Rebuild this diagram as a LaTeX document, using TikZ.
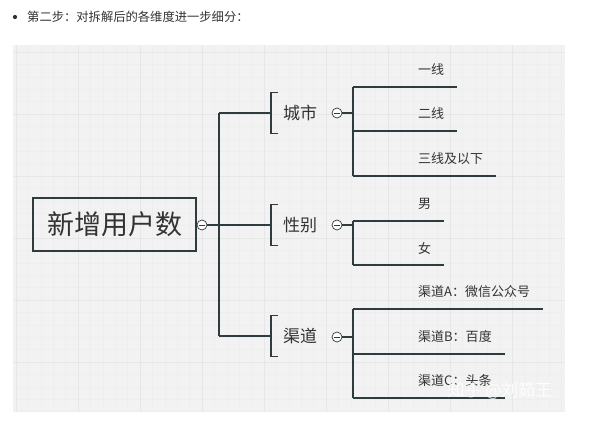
\documentclass[tikz,border=0pt]{standalone}
\usepackage{fontspec}
\setmainfont{Noto Sans CJK SC}
\definecolor{linec}{HTML}{2E3B3F}
\definecolor{textc}{HTML}{333333}
\definecolor{bgc}{HTML}{F2F2F2}
\definecolor{gridmaj}{HTML}{E7E7E7}
\definecolor{gridmin}{HTML}{EEEEEE}
\begin{document}
\begin{tikzpicture}[x=1pt,y=-1pt,
  conn/.style={draw=linec, line width=1.4pt},
  fold/.style={circle, draw=linec, fill=white, line width=0.7pt, minimum size=10pt, inner sep=0pt,
    path picture={\draw[linec, line width=0.6pt] ([xshift=-2.8pt]path picture bounding box.center) -- ([xshift=2.8pt]path picture bounding box.center);}},
  rootbox/.style={draw=linec, line width=1.5pt, minimum width=163pt, minimum height=53pt, inner sep=0pt,
    font=\fontsize{27}{27}\selectfont, text=textc},
  branch/.style={font=\fontsize{17}{17}\selectfont, text=textc, inner xsep=12pt, inner ysep=0pt,
    minimum height=41pt, anchor=west},
  leaf/.style={font=\fontsize{13}{13}\selectfont, text=textc, inner xsep=13pt, inner ysep=0pt, anchor=west},
  bracket/.style={draw=linec, line width=1.4pt}
]
\useasboundingbox (0,0) rectangle (609,431);
% heading
\fill[textc] (15,17) circle (2.1pt);
\node[anchor=west, font=\fontsize{12.3}{12.3}\selectfont, text=textc, inner sep=0pt] (title) at (27,17) {第二步：对拆解后的各维度进一步细分：};
% background grid
\fill[bgc] (13,45) rectangle (565,412);
\begin{scope}
\clip (13,45) rectangle (565,412);
\foreach \x in {0,...,45} {\draw[gridmin, line width=0.3pt] (16+\x*12.4,45) -- (16+\x*12.4,412);}
\foreach \y in {0,...,30} {\draw[gridmin, line width=0.3pt] (13,52+\y*12.4) -- (565,52+\y*12.4);}
\foreach \x in {0,...,9} {\draw[gridmaj, line width=0.6pt] (16+\x*62,45) -- (16+\x*62,412);}
\foreach \y in {0,...,6} {\draw[gridmaj, line width=0.6pt] (13,52+\y*62) -- (565,52+\y*62);}
\end{scope}
% root
\node[rootbox] (root) at (114.5,224.5) {新增用户数};
\node[fold] (rc) at (202,225) {};
\draw[conn] (root.east) -- (rc.west);
% trunk coordinates
\coordinate (t0) at (219,225);
\coordinate (t1) at (219,113);
\coordinate (t2) at (219,225);
\coordinate (t3) at (219,336);
\draw[conn] (rc.east) -- (t0);
\draw[conn] (t1) -- (t3);
% branches
\node[branch] (b1) at (271,113) {城市};
\node[branch] (b2) at (271,225) {性别};
\node[branch] (b3) at (271,336) {渠道};
\foreach \b in {b1,b2,b3} {
  \draw[bracket] ([xshift=7pt]\b.north west) -- (\b.north west) -- (\b.south west) -- ([xshift=7pt]\b.south west);
}
\draw[conn] (t1) -- (b1.west);
\draw[conn] (t2) -- (b2.west);
\draw[conn] (t3) -- (b3.west);
\node[fold] (c1) at (337,113) {};
\node[fold] (c2) at (337,225) {};
\node[fold] (c3) at (337,337) {};
% sub-trunks
\coordinate (v1) at (353,113);
\coordinate (v2) at (353,225);
\coordinate (v3) at (353,337);
\draw[conn] (c1.east) -- (v1);
\draw[conn] (c2.east) -- (v2);
\draw[conn] (c3.east) -- (v3);
% leaf line starts
\coordinate (a1) at (353,87);
\coordinate (a2) at (353,131);
\coordinate (a3) at (353,176);
\coordinate (a4) at (353,221);
\coordinate (a5) at (353,265);
\coordinate (a6) at (353,309);
\coordinate (a7) at (353,354);
\coordinate (a8) at (353,398);
\draw[conn] (a1) -- (a3);
\draw[conn] (a4) -- (a5);
\draw[conn] (a6) -- (a8);
% leaves
\node[leaf] (l1) at (405,70) {一线};
\node[leaf] (l2) at (405,114) {二线};
\node[leaf] (l3) at (405,159) {三线及以下};
\node[leaf] (l4) at (405,204) {男};
\node[leaf] (l5) at (405,248) {女};
\node[leaf] (l6) at (405,292) {渠道A：微信公众号};
\node[leaf] (l7) at (405,337) {渠道B：百度};
\node[leaf] (l8) at (405,381) {渠道C：头条};
\foreach \i in {1,...,8} {
  \draw[conn] (a\i) -- (a\i -| l\i.east);
}
% watermark
\node[font=\fontsize{17}{17}\selectfont, text=white, opacity=0.85, inner sep=0pt] (wm) at (500,391) {知乎 @刘筎王};
\end{tikzpicture}
\end{document}
